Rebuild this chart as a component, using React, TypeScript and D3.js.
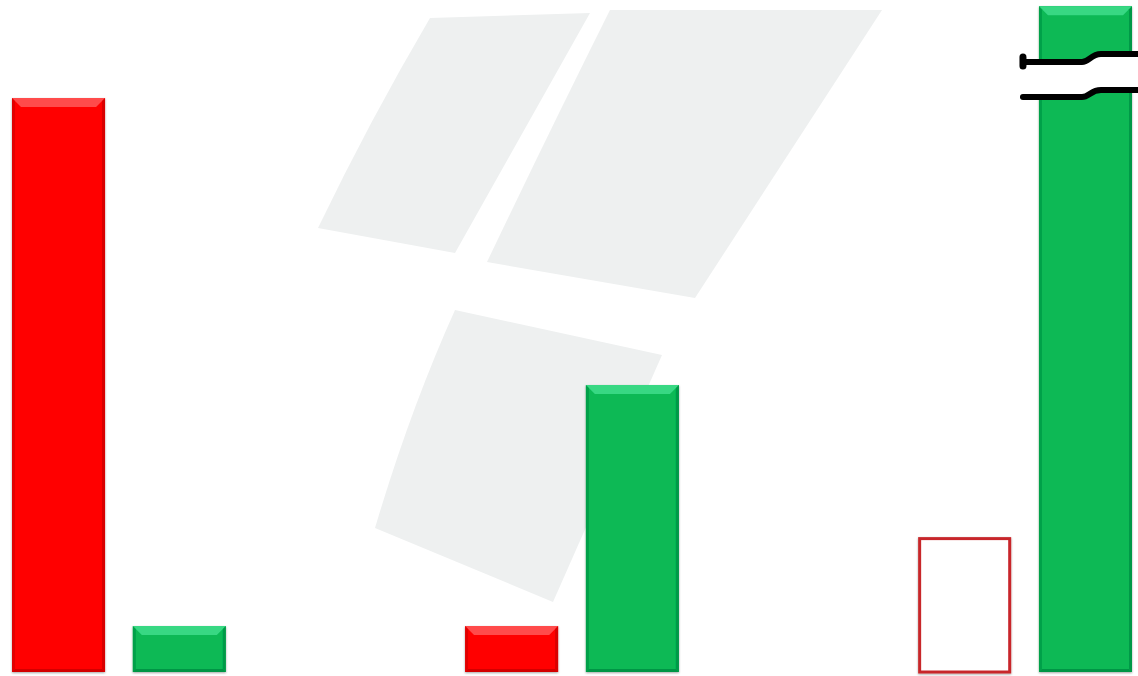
import * as d3 from "d3";

// three unlabeled groups, two bars each
const groups: string[] = ["g1", "g2", "g3"];
const series: string[] = ["red", "green"];
const redValues: number[] = [100, 8, 23.5];
const greenValues: number[] = [8, 50, 116];
const redHollow: boolean[] = [false, false, true];
const greenBroken: boolean[] = [false, false, true];

const width = 1138;
const height = 676;
const marginLeft = 12;
const marginRight = 6;
const baseline = 672;

const colors = {
  red: { main: "#ff0000", light: "#ff4c4c", dark: "#c80000" },
  green: { main: "#07b955", light: "#38d883", dark: "#058c40" },
};

function BevelBar({ x, y, w, h, c }: { x: number; y: number; w: number; h: number; c: any }) {
  const b = Math.min(9, h / 3);
  const s = 3;
  const y1 = y + h;
  return (
    <g filter="url(#shadow)">
      <rect x={x} y={y} width={w} height={h} fill={c.main} />
      <polygon points={`${x},${y} ${x + w},${y} ${x + w - b},${y + b} ${x + b},${y + b}`} fill={c.light} />
      <polygon points={`${x},${y} ${x + s},${y + s} ${x + s},${y1 - s} ${x},${y1}`} fill={c.dark} opacity={0.55} />
      <polygon points={`${x + w},${y} ${x + w - s},${y + s} ${x + w - s},${y1 - s} ${x + w},${y1}`} fill={c.dark} opacity={0.7} />
      <polygon points={`${x},${y1} ${x + s},${y1 - s} ${x + w - s},${y1 - s} ${x + w},${y1}`} fill={c.dark} opacity={0.8} />
    </g>
  );
}

export default function App() {
  const x = d3
    .scaleBand()
    .domain(groups)
    .range([marginLeft, width - marginRight])
    .paddingInner(0.528)
    .paddingOuter(0);

  const xs = d3.scaleBand().domain(series).range([0, x.bandwidth()]).paddingInner(0.23);

  const y = d3.scaleLinear().domain([0, 100]).range([baseline, 98]);

  const bars: any[] = [];
  groups.forEach((g, i) => {
    bars.push({ g, s: "red", v: redValues[i], hollow: redHollow[i], broken: false });
    bars.push({ g, s: "green", v: greenValues[i], hollow: false, broken: greenBroken[i] });
  });

  return (
    <svg
      width={width}
      height={height}
      style={{ position: "absolute", left: 0, top: 0, display: "block", background: "#fff" }}
    >
      <defs>
        <filter id="shadow" x="-10%" y="-10%" width="120%" height="120%">
          <feDropShadow dx="0" dy="1" stdDeviation="1.2" floodColor="#000" floodOpacity="0.35" />
        </filter>
      </defs>

      {/* watermark logo */}
      <g fill="#eef0f0">
        <path d="M430,18 L590,13 L455,253 L318,228 Q370,120 430,18 Z" />
        <path d="M610,10 L882,10 L695,298 L487,262 Q550,130 610,10 Z" />
        <path d="M455,310 L662,355 L553,602 L375,528 Q410,410 455,310 Z" />
      </g>

      {bars.map((d, k) => {
        const bx = (x(d.g) ?? 0) + (xs(d.s) ?? 0);
        const bw = xs.bandwidth();
        const top = y(d.v);
        const h = baseline - top;
        const c = (colors as any)[d.s];
        if (d.hollow) {
          return (
            <rect
              key={k}
              x={bx + 1.5}
              y={top + 1.5}
              width={bw - 3}
              height={h - 1.5}
              fill="#fff"
              stroke="#c8282c"
              strokeWidth={3}
              filter="url(#shadow)"
            />
          );
        }
        return <BevelBar key={k} x={bx} y={top} w={bw} h={h} c={c} />;
      })}

      {/* axis break on the tall bar */}
      {bars
        .filter((d) => d.broken)
        .map((d, k) => {
          const bx = (x(d.g) ?? 0) + (xs(d.s) ?? 0);
          const x0 = bx - 16;
          const x1 = width;
          const top1 = `M${x0},62 L${bx + 43},62 C${bx + 50},62 ${bx + 52},54 ${bx + 62},54 L${x1},54`;
          const bot1 = `M${x0},97 L${bx + 43},97 C${bx + 50},97 ${bx + 52},90 ${bx + 62},90 L${x1},90`;
          const fillPath = `M${x0},62 L${bx + 43},62 C${bx + 50},62 ${bx + 52},54 ${bx + 62},54 L${x1},54 L${x1},90 L${bx + 62},90 C${bx + 52},90 ${bx + 50},97 ${bx + 43},97 L${x0},97 Z`;
          return (
            <g key={k}>
              <path d={fillPath} fill="#fff" />
              <path d={top1} fill="none" stroke="#000" strokeWidth={6} strokeLinecap="round" />
              <path d={bot1} fill="none" stroke="#000" strokeWidth={6} strokeLinecap="round" />
              <path d={`M${x0},57 L${x0},66`} stroke="#000" strokeWidth={7} strokeLinecap="round" />
            </g>
          );
        })}
    </svg>
  );
}
